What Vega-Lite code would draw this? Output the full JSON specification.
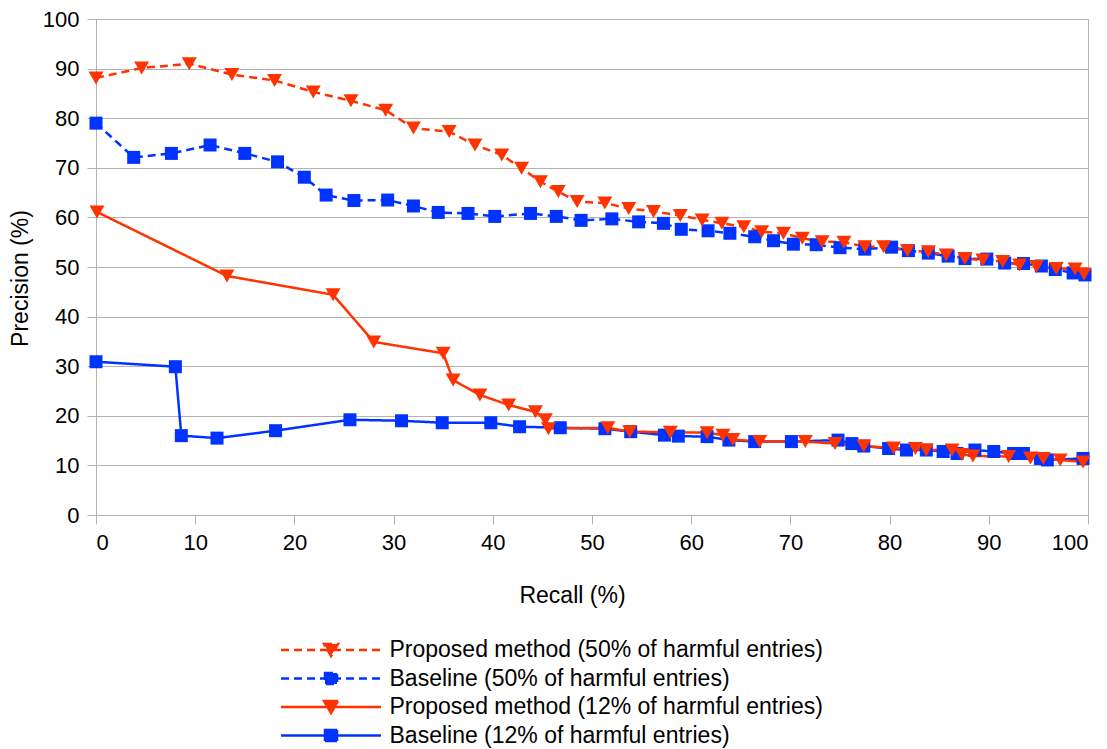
{
  "$schema": "https://vega.github.io/schema/vega-lite/v6.json",
  "width": 992,
  "height": 496,
  "autosize": {"type": "none"},
  "padding": {"left": 96, "top": 19, "right": 19, "bottom": 234},
  "background": "white",
  "config": {
    "font": "Liberation Sans",
    "view": {"stroke": "#b3b3b3", "strokeWidth": 1},
    "axis": {
      "domainColor": "#b3b3b3", "tickColor": "#b3b3b3", "gridColor": "#b3b3b3",
      "domainWidth": 1, "tickWidth": 1, "gridWidth": 1, "tickSize": 9,
      "labelFont": "Liberation Sans", "labelFontSize": 22, "labelColor": "#000000",
      "titleFont": "Liberation Sans", "titleFontSize": 23, "titleFontWeight": "normal", "titleColor": "#000000"
    },
    "legend": {
      "orient": "none", "legendX": 183.5, "legendY": 619.5, "direction": "vertical",
      "labelFont": "Liberation Sans", "labelFontSize": 23, "labelColor": "#000000",
      "symbolSize": 400, "labelOffset": 87, "rowPadding": 4.5, "padding": 0, "labelLimit": 0,
      "symbolStrokeWidth": 2.5, "symbolOpacity": 1
    }
  },
  "data": {
    "values": [
      {"s":"B12","r":0,"p":30.9},{"s":"B12","r":8.0,"p":29.9},{"s":"B12","r":8.6,"p":16.0},{"s":"B12","r":12.2,"p":15.5},{"s":"B12","r":18.1,"p":17.0},{"s":"B12","r":25.6,"p":19.2},{"s":"B12","r":30.8,"p":19.0},{"s":"B12","r":34.9,"p":18.6},{"s":"B12","r":39.8,"p":18.6},{"s":"B12","r":42.7,"p":17.8},{"s":"B12","r":46.8,"p":17.6},{"s":"B12","r":51.3,"p":17.4},{"s":"B12","r":53.9,"p":16.8},{"s":"B12","r":57.3,"p":16.1},{"s":"B12","r":58.7,"p":15.9},{"s":"B12","r":61.6,"p":15.8},{"s":"B12","r":63.8,"p":15.1},{"s":"B12","r":66.4,"p":14.8},{"s":"B12","r":70.1,"p":14.8},{"s":"B12","r":74.8,"p":15.1},{"s":"B12","r":76.2,"p":14.4},{"s":"B12","r":77.4,"p":13.9},{"s":"B12","r":79.9,"p":13.4},{"s":"B12","r":81.7,"p":13.1},{"s":"B12","r":83.7,"p":13.1},{"s":"B12","r":85.4,"p":12.8},{"s":"B12","r":86.8,"p":12.4},{"s":"B12","r":88.6,"p":13.1},{"s":"B12","r":90.5,"p":12.8},{"s":"B12","r":92.5,"p":12.4},{"s":"B12","r":93.5,"p":12.4},{"s":"B12","r":95.2,"p":11.4},{"s":"B12","r":95.9,"p":11.1},{"s":"B12","r":99.5,"p":11.4},
      {"s":"B50","r":0,"p":79.0},{"s":"B50","r":3.8,"p":72.1},{"s":"B50","r":7.6,"p":72.9},{"s":"B50","r":11.5,"p":74.6},{"s":"B50","r":15.0,"p":72.9},{"s":"B50","r":18.3,"p":71.2},{"s":"B50","r":21.0,"p":68.1},{"s":"B50","r":23.2,"p":64.5},{"s":"B50","r":26.0,"p":63.4},{"s":"B50","r":29.4,"p":63.5},{"s":"B50","r":32.0,"p":62.3},{"s":"B50","r":34.5,"p":61.0},{"s":"B50","r":37.5,"p":60.8},{"s":"B50","r":40.2,"p":60.2},{"s":"B50","r":43.8,"p":60.8},{"s":"B50","r":46.4,"p":60.2},{"s":"B50","r":48.9,"p":59.4},{"s":"B50","r":52.0,"p":59.7},{"s":"B50","r":54.7,"p":59.1},{"s":"B50","r":57.2,"p":58.8},{"s":"B50","r":59.0,"p":57.6},{"s":"B50","r":61.7,"p":57.3},{"s":"B50","r":63.9,"p":56.8},{"s":"B50","r":66.4,"p":56.1},{"s":"B50","r":68.3,"p":55.3},{"s":"B50","r":70.3,"p":54.6},{"s":"B50","r":72.6,"p":54.5},{"s":"B50","r":75.0,"p":53.9},{"s":"B50","r":77.5,"p":53.6},{"s":"B50","r":80.2,"p":54.0},{"s":"B50","r":81.9,"p":53.3},{"s":"B50","r":83.9,"p":52.8},{"s":"B50","r":85.9,"p":52.2},{"s":"B50","r":87.6,"p":51.7},{"s":"B50","r":89.8,"p":51.6},{"s":"B50","r":91.6,"p":50.8},{"s":"B50","r":93.5,"p":50.7},{"s":"B50","r":95.3,"p":50.2},{"s":"B50","r":96.7,"p":49.5},{"s":"B50","r":98.5,"p":48.8},{"s":"B50","r":99.7,"p":48.4},
      {"s":"P12","r":0.1,"p":61.1},{"s":"P12","r":13.2,"p":48.2},{"s":"P12","r":23.9,"p":44.4},{"s":"P12","r":28.0,"p":34.9},{"s":"P12","r":35.0,"p":32.6},{"s":"P12","r":36.0,"p":27.2},{"s":"P12","r":38.7,"p":24.2},{"s":"P12","r":41.6,"p":22.2},{"s":"P12","r":44.3,"p":20.8},{"s":"P12","r":45.3,"p":19.2},{"s":"P12","r":45.6,"p":17.4},{"s":"P12","r":51.6,"p":17.6},{"s":"P12","r":53.8,"p":16.8},{"s":"P12","r":57.9,"p":16.7},{"s":"P12","r":61.6,"p":16.6},{"s":"P12","r":63.2,"p":16.1},{"s":"P12","r":64.2,"p":15.2},{"s":"P12","r":66.9,"p":14.8},{"s":"P12","r":71.5,"p":14.8},{"s":"P12","r":74.5,"p":14.4},{"s":"P12","r":77.4,"p":13.9},{"s":"P12","r":80.4,"p":13.5},{"s":"P12","r":82.6,"p":13.4},{"s":"P12","r":83.7,"p":13.1},{"s":"P12","r":86.3,"p":13.1},{"s":"P12","r":87.3,"p":12.2},{"s":"P12","r":88.4,"p":11.9},{"s":"P12","r":92.0,"p":11.8},{"s":"P12","r":94.2,"p":11.5},{"s":"P12","r":95.5,"p":11.4},{"s":"P12","r":97.2,"p":11.1},{"s":"P12","r":99.5,"p":10.7},
      {"s":"P50","r":0,"p":88.1},{"s":"P50","r":4.6,"p":90.1},{"s":"P50","r":9.4,"p":91.0},{"s":"P50","r":13.7,"p":88.8},{"s":"P50","r":18.0,"p":87.6},{"s":"P50","r":21.9,"p":85.3},{"s":"P50","r":25.7,"p":83.5},{"s":"P50","r":29.2,"p":81.6},{"s":"P50","r":32.0,"p":78.0},{"s":"P50","r":35.6,"p":77.3},{"s":"P50","r":38.2,"p":74.6},{"s":"P50","r":40.9,"p":72.6},{"s":"P50","r":42.9,"p":69.9},{"s":"P50","r":44.8,"p":67.2},{"s":"P50","r":46.6,"p":65.2},{"s":"P50","r":48.5,"p":63.2},{"s":"P50","r":51.3,"p":62.9},{"s":"P50","r":53.7,"p":61.8},{"s":"P50","r":56.2,"p":61.2},{"s":"P50","r":58.9,"p":60.4},{"s":"P50","r":61.1,"p":59.5},{"s":"P50","r":63.1,"p":58.8},{"s":"P50","r":65.3,"p":58.1},{"s":"P50","r":67.1,"p":57.1},{"s":"P50","r":69.3,"p":56.8},{"s":"P50","r":71.2,"p":55.8},{"s":"P50","r":73.2,"p":55.1},{"s":"P50","r":75.4,"p":55.0},{"s":"P50","r":77.5,"p":54.1},{"s":"P50","r":79.4,"p":54.1},{"s":"P50","r":81.8,"p":53.3},{"s":"P50","r":83.9,"p":53.1},{"s":"P50","r":85.7,"p":52.4},{"s":"P50","r":87.6,"p":51.7},{"s":"P50","r":89.4,"p":51.4},{"s":"P50","r":91.4,"p":51.1},{"s":"P50","r":93.1,"p":50.4},{"s":"P50","r":94.8,"p":50.1},{"s":"P50","r":96.8,"p":49.7},{"s":"P50","r":98.7,"p":49.6},{"s":"P50","r":99.6,"p":48.6}
    ]
  },
  "encoding": {
    "x": {
      "field": "r", "type": "quantitative",
      "scale": {"domain": [0, 100], "nice": false, "zero": false},
      "axis": {
        "values": [0,10,20,30,40,50,60,70,80,90,100], "grid": false,
        "labelPadding": 8, "title": "Recall (%)",
        "titleX": 476, "titleY": 87, "titleBaseline": "alphabetic", "titleAlign": "center"
      }
    },
    "y": {
      "field": "p", "type": "quantitative",
      "scale": {"domain": [0, 100], "nice": false},
      "axis": {
        "values": [0,10,20,30,40,50,60,70,80,90,100], "grid": true,
        "labelPadding": 8, "title": "Precision (%)",
        "titleX": -69, "titleY": 259, "titleAngle": -90, "titleBaseline": "alphabetic", "titleAlign": "center"
      }
    }
  },
  "layer": [
    {
      "transform": [{"filter": "datum.r < 0"}],
      "mark": {"type": "point", "filled": true, "size": 400, "strokeWidth": 2.5, "opacity": 1},
      "encoding": {
        "color": {
          "field": "s", "type": "nominal",
          "scale": {"domain": ["P50","B50","P12","B12"], "range": ["#ff3300","#0033ff","#ff3300","#0033ff"]},
          "legend": {
            "title": null,
            "labelExpr": "datum.value === 'P50' ? 'Proposed method (50% of harmful entries)' : datum.value === 'B50' ? 'Baseline (50% of harmful entries)' : datum.value === 'P12' ? 'Proposed method (12% of harmful entries)' : 'Baseline (12% of harmful entries)'"
          }
        },
        "stroke": {
          "field": "s", "type": "nominal",
          "scale": {"domain": ["P50","B50","P12","B12"], "range": ["#ff3300","#0033ff","#ff3300","#0033ff"]},
          "legend": {
            "title": null,
            "labelExpr": "datum.value === 'P50' ? 'Proposed method (50% of harmful entries)' : datum.value === 'B50' ? 'Baseline (50% of harmful entries)' : datum.value === 'P12' ? 'Proposed method (12% of harmful entries)' : 'Baseline (12% of harmful entries)'"
          }
        },
        "shape": {
          "field": "s", "type": "nominal",
          "scale": {"domain": ["P50","B50","P12","B12"], "range": ["M-1,0H9M3.3,-0.6H4.7L4,0.6Z","M-1,0H9M3.4,-0.55H4.6V0.55H3.4Z","M-1,0H9M3.3,-0.6H4.7L4,0.6Z","M-1,0H9M3.4,-0.55H4.6V0.55H3.4Z"]},
          "legend": {
            "title": null,
            "labelExpr": "datum.value === 'P50' ? 'Proposed method (50% of harmful entries)' : datum.value === 'B50' ? 'Baseline (50% of harmful entries)' : datum.value === 'P12' ? 'Proposed method (12% of harmful entries)' : 'Baseline (12% of harmful entries)'"
          }
        },
        "strokeDash": {
          "field": "s", "type": "nominal",
          "scale": {"domain": ["P50","B50","P12","B12"], "range": [[8,5],[8,5],[1,0],[1,0]]},
          "legend": {
            "title": null,
            "labelExpr": "datum.value === 'P50' ? 'Proposed method (50% of harmful entries)' : datum.value === 'B50' ? 'Baseline (50% of harmful entries)' : datum.value === 'P12' ? 'Proposed method (12% of harmful entries)' : 'Baseline (12% of harmful entries)'"
          }
        }
      }
    },
    {
      "mark": {"type": "line", "strokeWidth": 2.5},
      "encoding": {
        "color": {"field": "s", "type": "nominal"},
        "strokeDash": {"field": "s", "type": "nominal"}
      }
    },
    {
      "transform": [{"filter": "datum.s === 'B12' || datum.s === 'B50'"}],
      "mark": {"type": "point", "filled": true, "opacity": 1, "shape": "square", "size": 169},
      "encoding": {
        "color": {"field": "s", "type": "nominal"}
      }
    },
    {
      "transform": [{"filter": "datum.s === 'P12' || datum.s === 'P50'"}],
      "mark": {"type": "point", "filled": true, "opacity": 1, "shape": "triangle-down", "size": 225},
      "encoding": {
        "color": {"field": "s", "type": "nominal"}
      }
    }
  ]
}
